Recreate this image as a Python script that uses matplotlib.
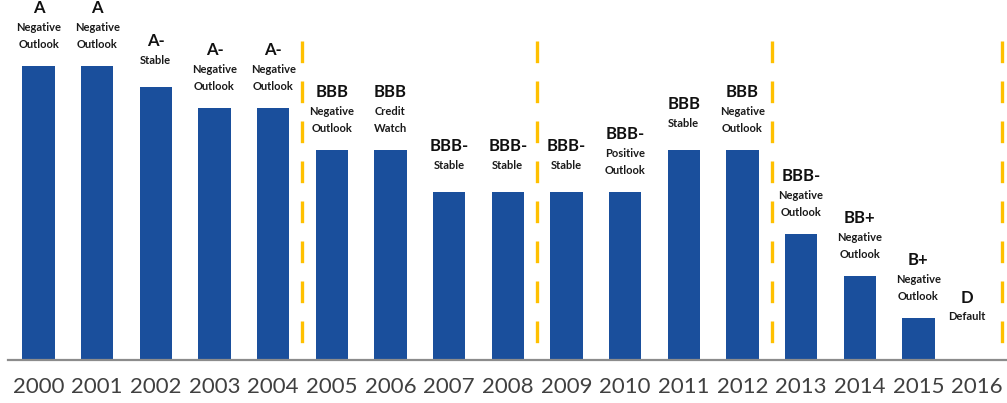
import matplotlib.pyplot as plt

plt.rcParams['font.family'] = ['Lato', 'DejaVu Sans']

years = [str(y) for y in range(2000, 2017)]
# rating notch level used for the bar height
levels = [14, 14, 13, 12, 12, 10, 10, 8, 8, 8, 8, 10, 10, 6, 4, 2, 0]
ratings = ['A', 'A', 'A-', 'A-', 'A-', 'BBB', 'BBB', 'BBB-', 'BBB-', 'BBB-',
           'BBB-', 'BBB', 'BBB', 'BBB-', 'BB+', 'B+', 'D']
outlooks = ['Negative\nOutlook', 'Negative\nOutlook', 'Stable', 'Negative\nOutlook',
            'Negative\nOutlook', 'Negative\nOutlook', 'Credit\nWatch', 'Stable', 'Stable',
            'Stable', 'Positive\nOutlook', 'Stable', 'Negative\nOutlook', 'Negative\nOutlook',
            'Negative\nOutlook', 'Negative\nOutlook', 'Default']
# period boundaries (between bars)
dividers = [4.5, 8.5, 12.5, 16.42]

bar_color = '#1a4f9c'
dash_color = '#ffc000'

fig = plt.figure(figsize=(10.07, 4.03), dpi=100)
ax = fig.add_axes([8 / 1007, 43 / 403, 999 / 1007, 360 / 403])

x = list(range(len(years)))
ax.bar(x, levels, width=0.55, color=bar_color, zorder=2)

ax.set_xlim(-0.52, 16.51)
ax.set_ylim(0, 360 / 21)

for d in dividers:
    ax.plot([d, d], [15.2, 0], color=dash_color, lw=2.4,
            linestyle=(0, (6.5, 5.5)), zorder=1, clip_on=False)

# rating and outlook labels above each bar
for i, (lv, r, o) in enumerate(zip(levels, ratings, outlooks)):
    lines = o.split('\n')
    dx = -10 if i == 16 else 0
    if len(lines) == 2:
        offs = [53, 35, 18]
    else:
        offs = [41, 23]
    if i == 16:
        offs = [57, 40]
    ax.annotate(r, (i, lv), xytext=(dx, offs[0]), textcoords='offset pixels',
                ha='center', va='baseline', fontsize=12, fontweight='bold',
                color='#111111', annotation_clip=False)
    for ln, off in zip(lines, offs[1:]):
        ax.annotate(ln, (i, lv), xytext=(dx, off), textcoords='offset pixels',
                    ha='center', va='baseline', fontsize=8, fontweight='bold',
                    color='#1a1a1a', annotation_clip=False)

for s in ['top', 'right', 'left']:
    ax.spines[s].set_visible(False)
ax.spines['bottom'].set_color('#8c8c8c')
ax.spines['bottom'].set_linewidth(1.6)
ax.spines['bottom'].set_zorder(3)

ax.set_yticks([])
ax.set_xticks(x)
ax.set_xticklabels(years, fontsize=16, color='#404040')
ax.tick_params(axis='x', length=0, pad=12)

fig.savefig('out.png', dpi=100)
